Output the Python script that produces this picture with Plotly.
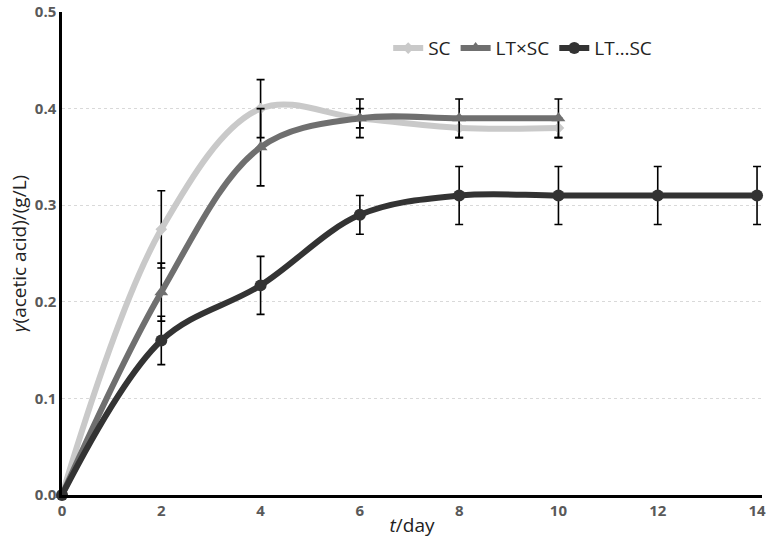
import plotly.graph_objects as go

days_sc = [0, 2, 4, 6, 8, 10]
sc = [0.0, 0.275, 0.40, 0.39, 0.38, 0.38]
sc_err = [0.0, 0.04, 0.03, 0.01, 0.01, 0.01]

days_ltx = [0, 2, 4, 6, 8, 10]
ltx = [0.0, 0.21, 0.36, 0.39, 0.39, 0.39]
ltx_err = [0.0, 0.03, 0.04, 0.02, 0.02, 0.02]

days_lts = [0, 2, 4, 6, 8, 10, 12, 14]
lts = [0.0, 0.16, 0.217, 0.29, 0.31, 0.31, 0.31, 0.31]
lts_err = [0.0, 0.025, 0.03, 0.02, 0.03, 0.03, 0.03, 0.03]

x_ticks = [0, 2, 4, 6, 8, 10, 12, 14]
y_ticks = [0, 0.1, 0.2, 0.3, 0.4, 0.5]

names = ["SC", "LT×SC", "LT…SC"]
colors = ["#c9c9c9", "#6f6f6f", "#333333"]
symbols = ["diamond", "triangle-up", "circle"]

fig = go.Figure()
for x, y, e, n, c, s in [
    (days_sc, sc, sc_err, names[0], colors[0], symbols[0]),
    (days_ltx, ltx, ltx_err, names[1], colors[1], symbols[1]),
    (days_lts, lts, lts_err, names[2], colors[2], symbols[2]),
]:
    fig.add_trace(go.Scatter(
        x=x, y=y, name=n, mode="lines+markers",
        line=dict(color=c, width=6, shape="spline", smoothing=1.0),
        marker=dict(color=c, symbol=s, size=12 if s != "diamond" else 9),
        error_y=dict(type="data", array=e, visible=True, color="black",
                     thickness=1.6, width=4),
        cliponaxis=False,
    ))

fig.update_layout(
    width=767, height=543,
    margin=dict(l=62, r=5, t=12, b=48, autoexpand=False),
    paper_bgcolor="white", plot_bgcolor="white",
    font=dict(family="Open Sans", color="#222222"),
    legend=dict(orientation="h", x=0.466, y=0.925, xanchor="left", yanchor="middle",
                font=dict(size=19, color="#222222"), bgcolor="rgba(0,0,0,0)",
                itemwidth=30, tracegroupgap=0),
    showlegend=True,
)
fig.update_xaxes(
    range=[0, 14.1], tickvals=x_ticks,
    ticktext=["<b>%d</b>" % v for v in x_ticks],
    tickfont=dict(size=15, color="#595959"),
    showline=True, linecolor="black", linewidth=2.5,
    showgrid=False, zeroline=False, ticks="", automargin=False,
    title=dict(text="<i>t</i>/day", font=dict(size=19, color="#222222"), standoff=0),
)
fig.update_yaxes(
    range=[0, 0.5], tickvals=y_ticks,
    ticktext=["<b>%.1f</b>" % v for v in y_ticks],
    tickfont=dict(size=15, color="#595959"),
    showline=True, linecolor="black", linewidth=2.5,
    showgrid=True, gridcolor="#d9d9d9", griddash="dot", gridwidth=1,
    zeroline=False, ticks="", automargin=False,
    title=dict(text="<i>γ</i>(acetic acid)/(g/L)", font=dict(size=19, color="#222222"), standoff=4),
)
fig.write_html(
    "out.html",
    config={"displayModeBar": False},
    post_script="document.body.style.margin='0px';document.body.style.overflow='hidden';",
)
